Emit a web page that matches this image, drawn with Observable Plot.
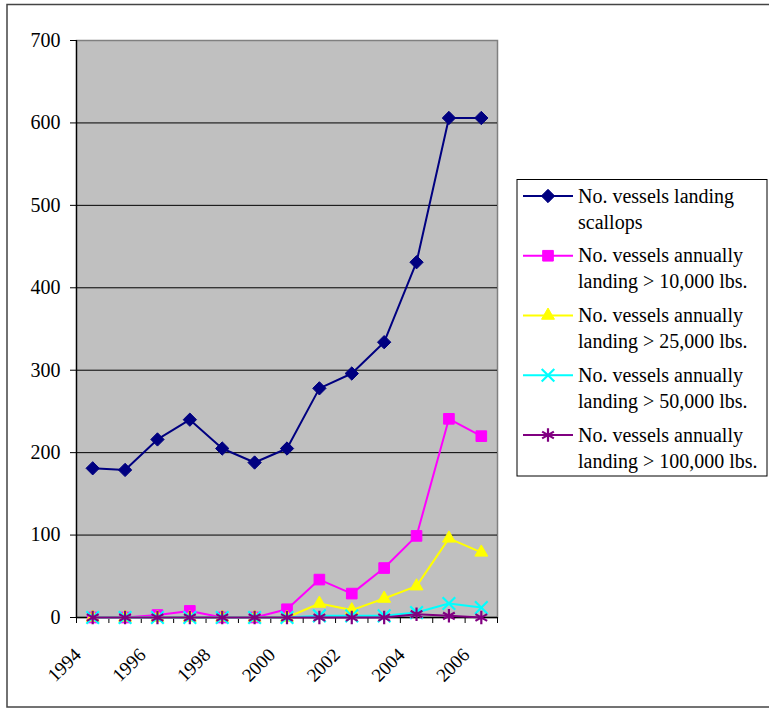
<!DOCTYPE html>
<html>
<head>
<meta charset="utf-8">
<script src="https://cdn.jsdelivr.net/npm/d3@7"></script>
<script src="https://cdn.jsdelivr.net/npm/@observablehq/plot@0.6"></script>
<style>
  body { margin: 0; background: #fff; }
  svg text { font-family: "Liberation Serif", "Times New Roman", serif; }
</style>
</head>
<body>
<div id="chart"></div>
<script>
// Years of the survey
const years = [1994, 1995, 1996, 1997, 1998, 1999, 2000, 2001, 2002, 2003, 2004, 2005, 2006];

// Number of vessels per year for each landing category
const vesselsLandingScallops = [181, 179, 216, 240, 205, 188, 205, 278, 296, 334, 431, 606, 606];
const vesselsOver10k = [0, 0, 3, 8, 0, 0, 10, 46, 29, 60, 99, 241, 220];
const vesselsOver25k = [0, 0, 0, 0, 0, 0, 0, 17, 9, 23, 38, 96, 79];
const vesselsOver50k = [0, 0, 0, 0, 0, 0, 0, 2, 2, 2, 6, 17, 12];
const vesselsOver100k = [0, 0, 0, 0, 0, 0, 0, 0, 0, 0, 4, 2, 0];

// Legend text, one entry per series (two lines each)
const seriesLabels = [
  ["No. vessels landing", "scallops"],
  ["No. vessels annually", "landing > 10,000 lbs."],
  ["No. vessels annually", "landing > 25,000 lbs."],
  ["No. vessels annually", "landing > 50,000 lbs."],
  ["No. vessels annually", "landing > 100,000 lbs."]
];

// Axis tick values and labels
const yTicks = [0, 100, 200, 300, 400, 500, 600, 700];
const xLabelYears = [1994, 1996, 1998, 2000, 2002, 2004, 2006];

const seriesValues = [vesselsLandingScallops, vesselsOver10k, vesselsOver25k, vesselsOver50k, vesselsOver100k];

// Styling for each series
const seriesStyle = [
  {color: "#000080", symbol: "diamond2", r: 6.0, filled: true},
  {color: "#ff00ff", symbol: "square", r: 6.0, filled: true},
  {color: "#ffff00", symbol: "triangle", r: 4.8, filled: true},
  {color: "#00ffff", symbol: "times", r: 5.8, filled: false},
  {color: "#800080", symbol: "asterisk", r: 6.4, filled: false}
];

const W = 769, H = 709;
const M = {top: 40, right: 272, bottom: 92, left: 76};
const font = "'Liberation Serif', 'Times New Roman', serif";

// Category boundaries for the tick marks on the year axis
const boundaries = [...years.map(y => y - 0.5), years[years.length - 1] + 0.5];

const seriesRows = seriesValues.map(vals => years.map((year, j) => ({year, value: vals[j]})));

const marks = [
  Plot.frame({fill: "#c0c0c0", stroke: "#808080", strokeWidth: 1.5}),
  Plot.ruleY(yTicks.slice(1, -1), {stroke: "#000", strokeWidth: 1}),
  Plot.ruleY([0], {stroke: "#000", strokeWidth: 1.3}),
  Plot.ruleX([boundaries[0]], {stroke: "#000", strokeWidth: 1.3}),
  Plot.axisY({ticks: yTicks, tickSize: 6, tickPadding: 10, label: null, fontSize: 20, tickFormat: d => String(d)}),
  Plot.axisX({ticks: boundaries, tickSize: 6, tickFormat: () => "", label: null}),
  Plot.text(xLabelYears, {
    x: d => d,
    text: d => String(d),
    frameAnchor: "bottom",
    rotate: -45,
    textAnchor: "end",
    lineAnchor: "bottom",
    dx: -10.5,
    dy: 38.5,
    fontSize: 19,
    fill: "#000"
  })
];

seriesRows.forEach((rows, i) => {
  const s = seriesStyle[i];
  marks.push(Plot.line(rows, {x: "year", y: "value", stroke: s.color, strokeWidth: 2}));
  marks.push(Plot.dot(rows, {
    x: "year", y: "value",
    symbol: s.symbol,
    r: s.r,
    fill: s.filled ? s.color : "none",
    stroke: s.color,
    strokeWidth: s.filled ? 1 : 2.2
  }));
});

const chart = Plot.plot({
  width: W,
  height: H,
  marginTop: M.top,
  marginRight: M.right,
  marginBottom: M.bottom,
  marginLeft: M.left,
  style: {background: "#fff", color: "#000", overflow: "visible"},
  x: {type: "linear", domain: [boundaries[0], boundaries[boundaries.length - 1]]},
  y: {type: "linear", domain: [0, 700]},
  marks
});

document.getElementById("chart").appendChild(chart);

const svg = d3.select(chart)
  .attr("font-family", font)
  .attr("font-size", 18);
svg.selectAll("text").attr("font-family", font);

// Outer border
svg.append("rect")
  .attr("x", 7).attr("y", 4.5)
  .attr("width", 780).attr("height", 702.5)
  .attr("fill", "none").attr("stroke", "#444").attr("stroke-width", 1.5);

// Legend box
const legend = svg.append("g")
  .attr("font-family", font)
  .attr("font-size", 20)
  .attr("text-anchor", "start");
legend.append("rect")
  .attr("x", 517).attr("y", 179.5)
  .attr("width", 250).attr("height", 296.5)
  .attr("fill", "#fff").attr("stroke", "#000").attr("stroke-width", 1);

const symbolTypes = {
  diamond2: d3.symbolDiamond2, square: d3.symbolSquare, triangle: d3.symbolTriangle,
  times: d3.symbolTimes, asterisk: d3.symbolAsterisk
};

seriesLabels.forEach((lines, i) => {
  const s = seriesStyle[i];
  const cy = 196 + i * 59.75;
  const g = legend.append("g");
  g.append("line")
    .attr("x1", 523).attr("x2", 573).attr("y1", cy).attr("y2", cy)
    .attr("stroke", s.color).attr("stroke-width", 2);
  g.append("path")
    .attr("transform", `translate(548,${cy})`)
    .attr("d", d3.symbol(symbolTypes[s.symbol], Math.PI * s.r * s.r)())
    .attr("fill", s.filled ? s.color : "none")
    .attr("stroke", s.color)
    .attr("stroke-width", s.filled ? 1 : 2.2);
  lines.forEach((t, k) => {
    g.append("text")
      .attr("x", 578).attr("y", cy + 6.5 + k * 26)
      .attr("fill", "#000")
      .text(t);
  });
});
</script>
</body>
</html>
